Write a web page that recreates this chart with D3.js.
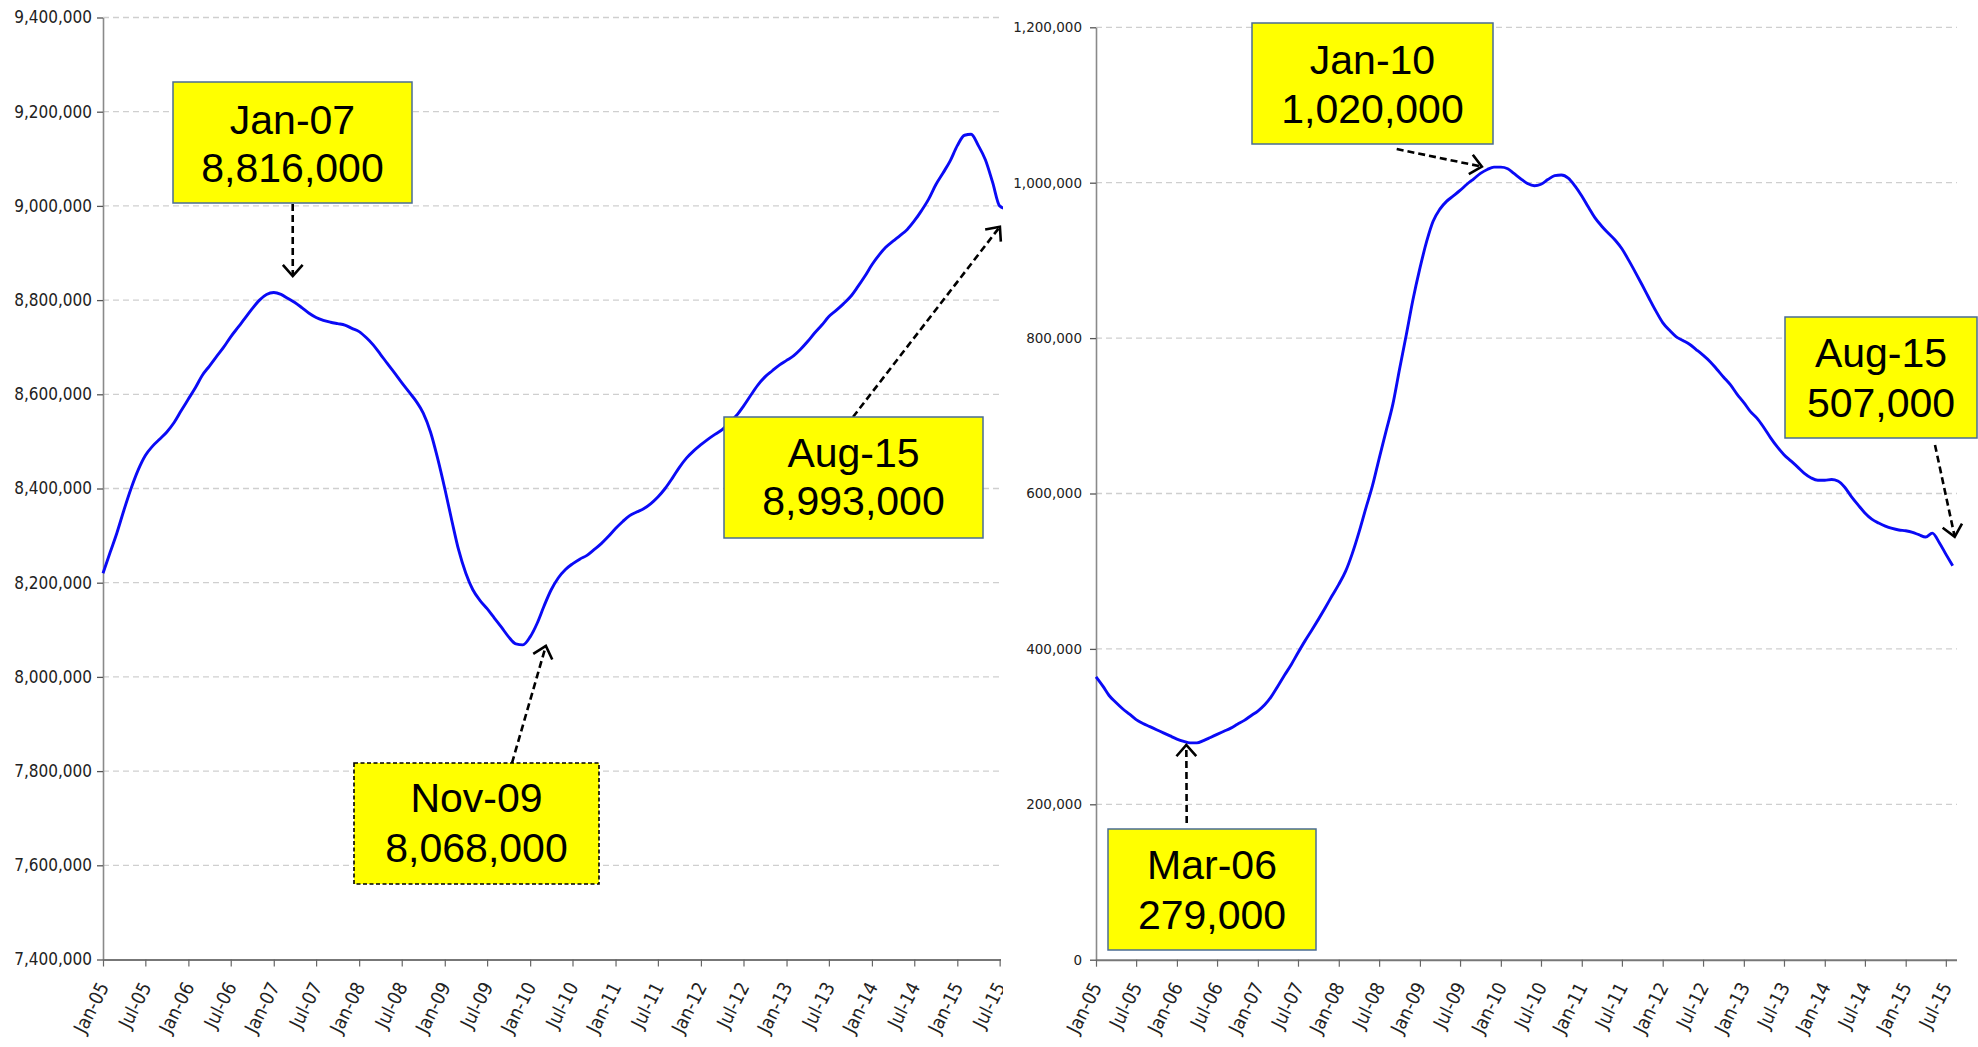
<!DOCTYPE html>
<html>
<head>
<meta charset="utf-8">
<script src="https://cdn.jsdelivr.net/npm/d3@7"></script>
<style>
  body { margin: 0; background: #fff; }
  svg { display: block; }
</style>
</head>
<body>
<svg id="chart" width="1978" height="1047"></svg>
<script>
// ---------------- DATA ----------------
const firstMonth = "Jan-05";
const lastMonth = "Aug-15";

const tickLabels = ["Jan-05","Jul-05","Jan-06","Jul-06","Jan-07","Jul-07","Jan-08","Jul-08",
  "Jan-09","Jul-09","Jan-10","Jul-10","Jan-11","Jul-11","Jan-12","Jul-12","Jan-13","Jul-13",
  "Jan-14","Jul-14","Jan-15","Jul-15"];

const leftTicks = [7400000,7600000,7800000,8000000,8200000,8400000,8600000,8800000,9000000,9200000,9400000];
const rightTicks = [0,200000,400000,600000,800000,1000000,1200000];

// monthly values, Jan-05 .. Aug-15 (left panel)
const leftSeries = [
  8220000,8265000,8305000,8355000,8400000,8440000,8470000,8490000,8505000,8520000,8540000,8565000,
  8590000,8615000,8640000,8660000,8680000,8700000,8722000,8742000,8762000,8782000,8800000,8812000,
  8816000,8812000,8804000,8795000,8784000,8772000,8763000,8757000,8753000,8750000,8747000,8740000,
  8733000,8720000,8705000,8685000,8665000,8645000,8625000,8605000,8585000,8560000,8520000,8465000,
  8400000,8330000,8270000,8220000,8185000,8162000,8145000,8125000,8105000,8085000,8070000,8068000,
  8085000,8115000,8150000,8185000,8210000,8228000,8240000,8250000,8258000,8270000,8283000,8298000,
  8315000,8330000,8342000,8350000,8357000,8368000,8382000,8400000,8422000,8445000,8465000,8480000,
  8493000,8505000,8515000,8525000,8540000,8555000,8575000,8598000,8620000,8637000,8650000,8662000,
  8672000,8682000,8695000,8712000,8730000,8747000,8765000,8778000,8792000,8807000,8828000,8850000,
  8875000,8896000,8912000,8925000,8937000,8950000,8968000,8990000,9015000,9045000,9070000,9095000,
  9128000,9150000,9152000,9128000,9098000,9050000,9000000,8993000
];

// monthly values, Jan-05 .. Aug-15 (right panel)
const rightSeries = [
  364000,352000,340000,331000,323000,316000,309000,304000,300000,296000,292000,288000,
  284000,281000,279000,279000,282000,286000,290000,294000,298000,303000,308000,314000,
  320000,328000,338000,352000,366000,380000,395000,410000,424000,438000,453000,468000,
  483000,500000,522000,550000,580000,610000,645000,680000,715000,760000,805000,850000,
  890000,925000,950000,966000,976000,983000,990000,998000,1005000,1012000,1017000,1020000,
  1020000,1018000,1012000,1005000,999000,996000,998000,1004000,1009000,1010000,1006000,996000,
  983000,968000,955000,944000,935000,926000,915000,900000,884000,868000,851000,835000,
  820000,810000,802000,797000,792000,785000,778000,770000,760000,750000,740000,728000,
  717000,705000,697000,685000,672000,660000,650000,642000,634000,626000,620000,617000,
  617000,618000,616000,608000,596000,585000,575000,567000,562000,558000,555000,553000,
  552000,550000,547000,544000,549000,537000,522000,507000
];

// call-out texts
const leftNotes = [
  { date: "Jan-07", value: 8816000 },
  { date: "Nov-09", value: 8068000 },
  { date: "Aug-15", value: 8993000 }
];
const rightNotes = [
  { date: "Jan-10", value: 1020000 },
  { date: "Mar-06", value: 279000 },
  { date: "Aug-15", value: 507000 }
];

// ---------------- LAYOUT ----------------
const parse = d3.timeParse("%b-%y");
const fmt = d3.format(",");
const svg = d3.select("#chart");

const months = d3.timeMonth.range(parse(firstMonth), d3.timeMonth.offset(parse(lastMonth), 1));

const panels = [
  {
    series: leftSeries, ticks: leftTicks, notes: leftNotes,
    x0: 103, x1: 1006.9, gridRight: 1001, clipRight: 1003,
    yTop: 17.5, yBottom: 959.5, domain: [7400000, 9400000],
    yFont: "'DejaVu Sans Condensed','DejaVu Sans',sans-serif", yFontSize: 17, labelGap: 11,
    boxes: [
      { x: 173, y: 82, w: 239, h: 121, b1: 133.5, b2: 182, dashed: false, from: [292.7, 204], off: [19, -16.5] },
      { x: 354, y: 763, w: 245, h: 121, b1: 812, b2: 862, dashed: true, from: [512, 763], off: [30, 1] },
      { x: 724, y: 417, w: 259, h: 121, b1: 467, b2: 515, dashed: false, from: [853, 417], off: [-7, 17.5] }
    ]
  },
  {
    series: rightSeries, ticks: rightTicks, notes: rightNotes,
    x0: 1096, x1: 1952.7, gridRight: 1957, clipRight: 1978,
    yTop: 27.3, yBottom: 959.7, domain: [0, 1200000],
    yFont: "'DejaVu Sans',Verdana,sans-serif", yFontSize: 13.5, labelGap: 14,
    boxes: [
      { x: 1252, y: 23, w: 241, h: 121, b1: 73.5, b2: 123, dashed: false, from: [1396.7, 149], off: [-19, -0.5] },
      { x: 1108, y: 829, w: 208, h: 121, b1: 878.5, b2: 928.5, dashed: false, from: [1186.7, 823], off: [-3.7, 2] },
      { x: 1785, y: 317, w: 192, h: 121, b1: 367, b2: 417, dashed: false, from: [1935, 445], off: [2, -29] }
    ]
  }
];

const defs = svg.append("defs");

panels.forEach((p, pi) => {
  const clipId = "clip" + pi;
  defs.append("clipPath").attr("id", clipId)
    .append("rect").attr("x", pi === 0 ? 0 : 1003).attr("y", 0)
    .attr("width", p.clipRight - (pi === 0 ? 0 : 1003)).attr("height", 1047);

  const g = svg.append("g").attr("clip-path", `url(#${clipId})`);

  const x = d3.scaleTime().domain([parse(firstMonth), parse(lastMonth)]).range([p.x0, p.x1]);
  const y = d3.scaleLinear().domain(p.domain).range([p.yBottom, p.yTop]);

  // gridlines
  g.append("g").selectAll("line").data(p.ticks.filter(t => t !== p.domain[0])).join("line")
    .attr("x1", p.x0).attr("x2", p.gridRight)
    .attr("y1", d => y(d)).attr("y2", d => y(d))
    .attr("stroke", "#cfcfcf").attr("stroke-width", 1.3).attr("stroke-dasharray", "6,4");

  // y axis
  const yAxis = g.append("g").attr("transform", `translate(${p.x0},0)`)
    .call(d3.axisLeft(y).tickValues(p.ticks).tickFormat(fmt).tickSize(6).tickSizeOuter(0));
  yAxis.select(".domain").attr("stroke", "#8a8a8a").attr("stroke-width", 1.6);
  yAxis.selectAll(".tick line").attr("stroke", "#555").attr("stroke-width", 1.3);
  yAxis.selectAll(".tick text")
    .attr("x", -p.labelGap)
    .style("font-family", p.yFont).style("font-size", p.yFontSize + "px").attr("fill", "#222");

  // x axis
  const xAxis = g.append("g").attr("transform", `translate(0,${p.yBottom})`)
    .call(d3.axisBottom(x).tickValues(tickLabels.map(parse)).tickFormat(d3.timeFormat("%b-%y")).tickSize(7).tickSizeOuter(0));
  xAxis.select(".domain").attr("d", `M${p.x0},0.5H${p.gridRight}`)
    .attr("stroke", "#777").attr("stroke-width", 2);
  xAxis.selectAll(".tick line").attr("stroke", "#666").attr("stroke-width", 1.2);
  xAxis.selectAll(".tick text")
    .attr("text-anchor", "end")
    .attr("dy", null).attr("y", null)
    .attr("transform", "translate(6,27) rotate(-63)")
    .style("font-family", "'DejaVu Sans Condensed','DejaVu Sans',sans-serif")
    .style("font-size", "19px").attr("fill", "#222");

  // data line
  g.append("path")
    .datum(p.series.map((v, i) => ({ d: months[i], v })))
    .attr("fill", "none").attr("stroke", "#0a0af5").attr("stroke-width", 2.9)
    .attr("stroke-linejoin", "round")
    .attr("d", d3.line().x(d => x(d.d)).y(d => y(d.v)).curve(d3.curveMonotoneX));

  // call-outs
  p.notes.forEach((n, k) => {
    const b = p.boxes[k];
    const tip = [x(parse(n.date)) + b.off[0], y(n.value) + b.off[1]];
    // arrow
    g.append("line")
      .attr("x1", b.from[0]).attr("y1", b.from[1]).attr("x2", tip[0]).attr("y2", tip[1])
      .attr("stroke", "#000").attr("stroke-width", 2.6).attr("stroke-dasharray", "7,4");
    const ang = Math.atan2(tip[1] - b.from[1], tip[0] - b.from[0]);
    const L = 15, spread = 0.72;
    const a1 = [tip[0] - L * Math.cos(ang - spread), tip[1] - L * Math.sin(ang - spread)];
    const a2 = [tip[0] - L * Math.cos(ang + spread), tip[1] - L * Math.sin(ang + spread)];
    g.append("path")
      .attr("d", `M${a1[0]},${a1[1]}L${tip[0]},${tip[1]}L${a2[0]},${a2[1]}`)
      .attr("fill", "none").attr("stroke", "#000").attr("stroke-width", 2.6);

    // box
    g.append("rect").attr("x", b.x).attr("y", b.y).attr("width", b.w).attr("height", b.h)
      .attr("fill", "#ffff00")
      .attr("stroke", b.dashed ? "#000" : "#4a6c94")
      .attr("stroke-width", b.dashed ? 1.6 : 1.5)
      .attr("stroke-dasharray", b.dashed ? "4,2.5" : null);
    const cx = b.x + b.w / 2;
    const t = g.append("g")
      .style("font-family", "'Liberation Sans',Arial,sans-serif")
      .style("font-size", "41px").attr("fill", "#000").attr("text-anchor", "middle");
    t.append("text").attr("x", cx).attr("y", b.b1).text(n.date);
    t.append("text").attr("x", cx).attr("y", b.b2).text(fmt(n.value));
  });
});
</script>
</body>
</html>
